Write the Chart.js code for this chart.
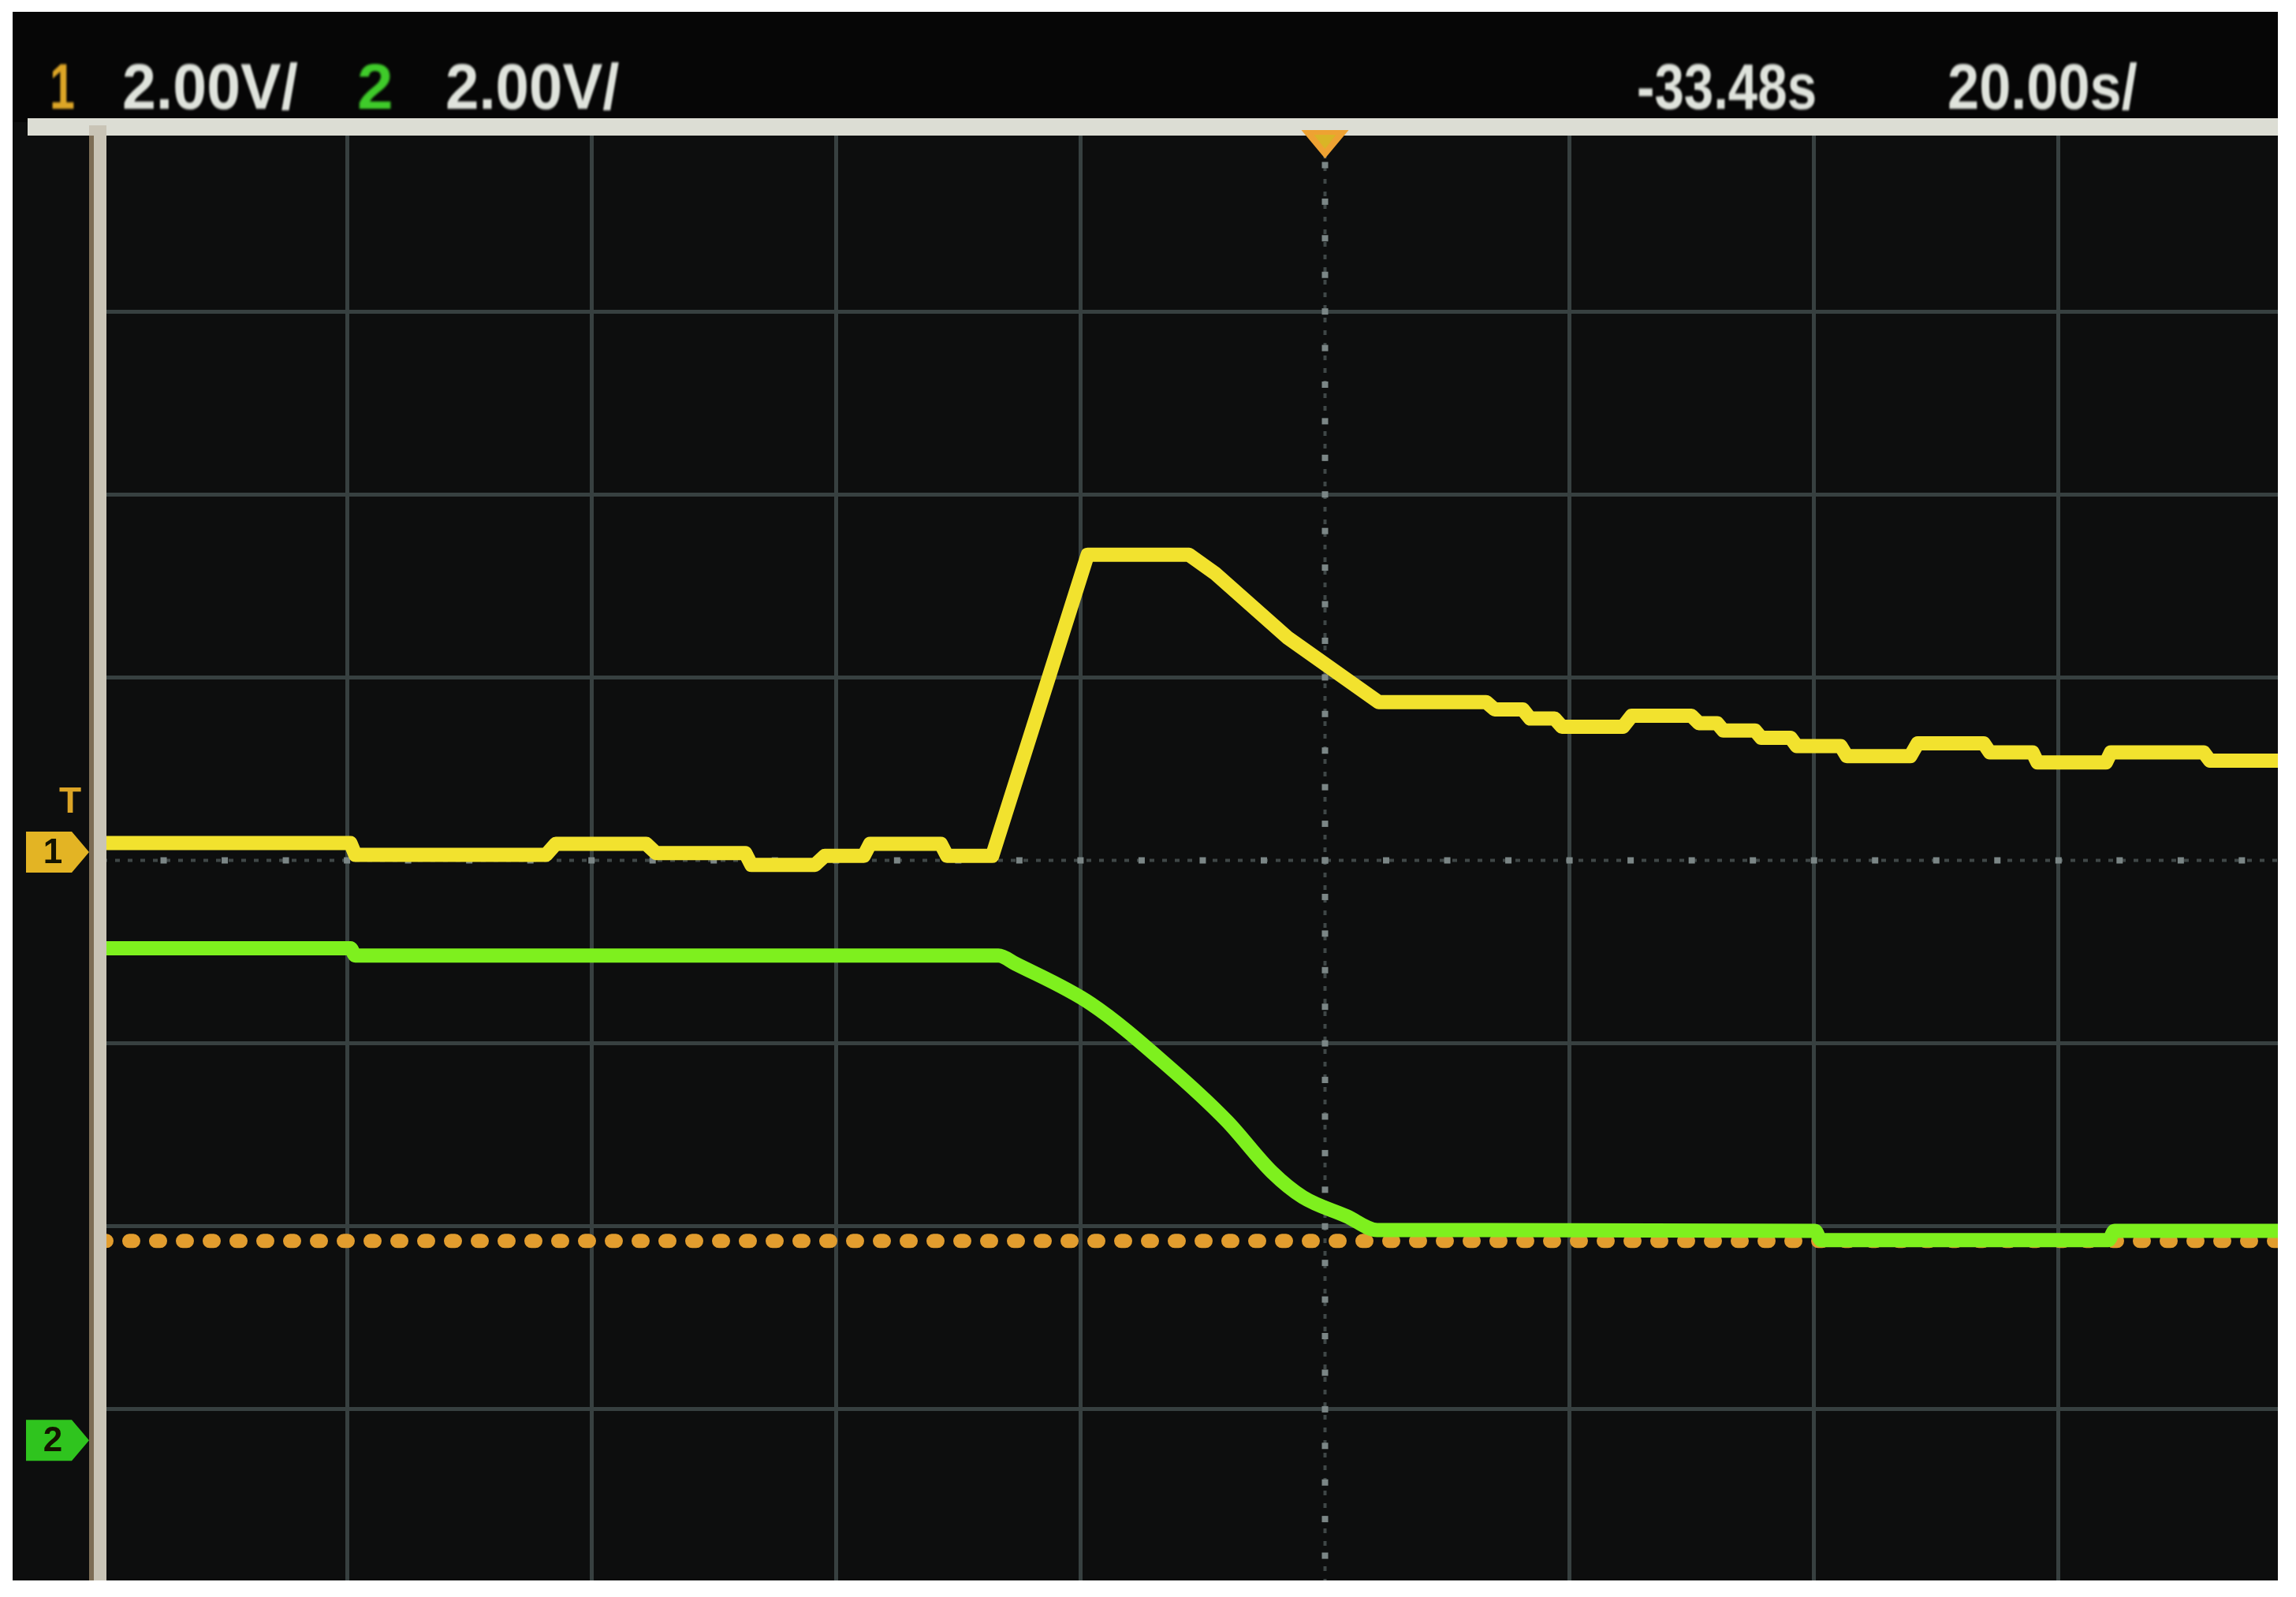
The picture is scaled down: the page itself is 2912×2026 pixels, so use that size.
<!DOCTYPE html>
<html>
<head>
<meta charset="utf-8">
<title>Scope capture</title>
<script src="https://cdn.jsdelivr.net/npm/chart.js@4.4.1/dist/chart.umd.min.js"></script>
<style>
  html, body { margin: 0; padding: 0; background: #ffffff; }
  body { width: 2912px; height: 2026px; position: relative; overflow: hidden; }
  #screen {
    position: absolute; left: 16px; top: 15px; width: 2873px; height: 1990px; overflow: hidden;
    background: linear-gradient(#060606 0px, #060606 140px, #0d0e0e 140px);
  }
  #scope { position: absolute; left: 0; top: 0; }
  .lbl {
    position: absolute; top: 54px; font-family: "Liberation Sans", Arial, sans-serif;
    font-size: 82px; font-weight: bold; line-height: 1; color: #dfe3dc; white-space: nowrap;
    transform-origin: left top; filter: blur(1.4px);
  }
</style>
</head>
<body>
<div id="screen">
  <span class="lbl" id="ch1Name" style="left:47px; color:#dca526; transform:scaleX(0.7)"></span>
  <span class="lbl" id="ch1Scale" style="left:139px; transform:scaleX(0.94)"></span>
  <span class="lbl" id="ch2Name" style="left:437px; color:#3fcb2a; transform:scaleX(1.0)"></span>
  <span class="lbl" id="ch2Scale" style="left:549px; transform:scaleX(0.93)"></span>
  <span class="lbl" id="timePos" style="left:2060px; transform:scaleX(0.82)"></span>
  <span class="lbl" id="timeScale" style="left:2454px; transform:scaleX(0.88)"></span>
  <canvas id="scope" width="3230" height="2025"></canvas>
</div>
<script>
// Scope settings
const voltsPerDiv = 2.0;
const secPerDiv = 20.0;
const timeOffset = -33.48;
const ch1GroundDiv = 0.08;
const ch2GroundDiv = -3.17;

// Header readouts
const channelNames = ['1', '2'];
const channelScaleLabels = ['2.00V/', '2.00V/'];
const timeLabels = ['-33.48s', '20.00s/'];

// Channel 1 (yellow), seconds / volts
const ch1Time = [-133.5, -113.2, -112.8, -97.2, -96.4, -89.0, -88.2, -80.9, -80.4, -75.2,
  -74.4, -71.2, -70.7, -64.9, -64.4, -60.7, -52.9, -44.6, -42.5, -36.5,
  -29.1, -20.3, -19.6, -17.3, -16.7, -14.7, -14.1, -9.1, -8.4, -3.5,
  -2.9, -1.4, -0.9, 1.7, 2.2, 4.6, 5.1, 8.7, 9.2, 14.4,
  15.0, 20.4, 20.9, 24.4, 24.8, 30.4, 30.8, 38.4, 38.9, 44.7];
const ch1Volts = [0.03, 0.03, -0.10, -0.10, 0.02, 0.02, -0.08, -0.08, -0.21, -0.21,
  -0.11, -0.11, 0.02, 0.02, -0.11, -0.11, 3.18, 3.18, 2.98, 2.27,
  1.57, 1.57, 1.49, 1.49, 1.39, 1.39, 1.30, 1.30, 1.42, 1.42,
  1.34, 1.34, 1.26, 1.26, 1.18, 1.18, 1.09, 1.09, 0.98, 0.98,
  1.12, 1.12, 1.02, 1.02, 0.91, 0.91, 1.02, 1.02, 0.93, 0.93];

// Channel 2 (green), seconds / volts
const ch2Time = [-133.5, -113.2, -112.8, -60.2, -58.8, -52.6, -46.4, -41.5, -37.8, -35.3,
  -31.7, -29.2, 6.6, 7.1, 30.6, 31.1, 44.7];
const ch2Volts = [5.38, 5.38, 5.30, 5.30, 5.21, 4.77, 4.10, 3.49, 2.93, 2.66,
  2.45, 2.30, 2.29, 2.19, 2.19, 2.29, 2.29];

// Orange dotted level line (on channel 2 scale)
const levelTime = [-133.48, 66.52];
const levelVolts = [2.18, 2.18];

document.getElementById('ch1Name').textContent = channelNames[0];
document.getElementById('ch2Name').textContent = channelNames[1];
document.getElementById('ch1Scale').textContent = channelScaleLabels[0];
document.getElementById('ch2Scale').textContent = channelScaleLabels[1];
document.getElementById('timePos').textContent = timeLabels[0];
document.getElementById('timeScale').textContent = timeLabels[1];

const xMin = timeOffset - 5 * secPerDiv;
const xMax = timeOffset + 5 * secPerDiv;
const gridColor = '#374040';

function toPoints(xs, ys) {
  return xs.map((x, i) => ({ x: x, y: ys[i] }));
}

// Arrow-shaped ground marker left of the graticule
function drawGround(ctx, tipX, y, color, text) {
  ctx.save();
  ctx.fillStyle = color;
  ctx.beginPath();
  ctx.moveTo(tipX - 80, y - 26);
  ctx.lineTo(tipX - 22, y - 26);
  ctx.lineTo(tipX, y);
  ctx.lineTo(tipX - 22, y + 26);
  ctx.lineTo(tipX - 80, y + 26);
  ctx.closePath();
  ctx.fill();
  ctx.fillStyle = '#141400';
  ctx.font = 'bold 44px "Liberation Sans", Arial, sans-serif';
  ctx.textAlign = 'center';
  ctx.textBaseline = 'middle';
  ctx.fillText(text, tipX - 46, y + 2);
  ctx.restore();
}

const scopeDecor = {
  id: 'scopeDecor',
  beforeDatasetsDraw(chart) {
    const ctx = chart.ctx;
    const xs = chart.scales.x, ys = chart.scales.y;
    const cx = xs.getPixelForValue(timeOffset);
    const cy = ys.getPixelForValue(0);
    ctx.save();
    // centre cross: faint line plus sub-division dots
    ctx.strokeStyle = '#3f4747';
    ctx.lineWidth = 4;
    ctx.setLineDash([6, 10]);
    ctx.beginPath();
    ctx.moveTo(cx, ys.top); ctx.lineTo(cx, ys.bottom);
    ctx.moveTo(xs.left, cy); ctx.lineTo(xs.right, cy);
    ctx.stroke();
    ctx.setLineDash([]);
    ctx.fillStyle = '#7b8686';
    for (let v = -4; v <= 4.001; v += 0.2) {
      const py = ys.getPixelForValue(v);
      ctx.fillRect(cx - 4, py - 4, 8, 8);
    }
    for (let t = xMin; t <= xMax + 0.001; t += secPerDiv / 4) {
      const px = xs.getPixelForValue(t);
      ctx.fillRect(px - 4, cy - 4, 8, 8);
    }
    ctx.restore();
  },
  afterDatasetsDraw(chart) {
    const ctx = chart.ctx;
    const xs = chart.scales.x, ys = chart.scales.y;
    const barLeft = xs.left - 17;
    ctx.save();
    // top and left graticule bars
    ctx.fillStyle = '#dcddd4';
    ctx.fillRect(19, ys.top - 13, chart.width, 22);
    ctx.fillStyle = '#c9c4b6';
    ctx.fillRect(barLeft, ys.top - 4, 22, chart.height);
    ctx.fillStyle = '#7d6d55';
    ctx.fillRect(barLeft, ys.top + 9, 6, chart.height);
    // trigger time marker
    const tx = xs.getPixelForValue(timeOffset);
    ctx.fillStyle = '#eea232';
    ctx.beginPath();
    ctx.moveTo(tx - 30, ys.top + 2);
    ctx.lineTo(tx + 30, ys.top + 2);
    ctx.lineTo(tx, ys.top + 38);
    ctx.closePath();
    ctx.fill();
    ctx.fillStyle = '#d9b526';
    ctx.beginPath();
    ctx.moveTo(tx - 14, ys.top + 8);
    ctx.lineTo(tx + 14, ys.top + 8);
    ctx.lineTo(tx, ys.top + 26);
    ctx.closePath();
    ctx.fill();
    ctx.restore();
    // channel ground markers
    const g1 = chart.scales.y1.getPixelForValue(0);
    const g2 = chart.scales.y2.getPixelForValue(0);
    drawGround(ctx, barLeft, g1 + 8, '#e3b424', channelNames[0]);
    drawGround(ctx, barLeft, g2, '#2fc41e', channelNames[1]);
    ctx.save();
    ctx.fillStyle = '#dca526';
    ctx.font = 'bold 46px "Liberation Sans", Arial, sans-serif';
    ctx.textAlign = 'center';
    ctx.textBaseline = 'middle';
    ctx.fillText('T', barLeft - 24, g1 - 55);
    ctx.restore();
  }
};

new Chart(document.getElementById('scope'), {
  type: 'line',
  data: {
    datasets: [
      {
        label: 'Channel 1',
        data: toPoints(ch1Time, ch1Volts),
        yAxisID: 'y1',
        borderColor: '#f2e22e',
        borderWidth: 18,
        borderJoinStyle: 'round',
        pointRadius: 0,
        tension: 0
      },
      {
        label: 'Channel 2',
        data: toPoints(ch2Time, ch2Volts),
        yAxisID: 'y2',
        borderColor: '#7ef01e',
        borderWidth: 18,
        borderJoinStyle: 'round',
        pointRadius: 0,
        cubicInterpolationMode: 'monotone'
      },
      {
        label: 'Level',
        data: toPoints(levelTime, levelVolts),
        yAxisID: 'y2',
        borderColor: '#e29d2e',
        borderWidth: 18,
        borderDash: [5, 29],
        borderCapStyle: 'round',
        pointRadius: 0
      }
    ]
  },
  options: {
    responsive: false,
    animation: false,
    devicePixelRatio: 1,
    layout: { padding: { left: 114, top: 148, right: 15, bottom: 20 } },
    plugins: { legend: { display: false }, tooltip: { enabled: false } },
    scales: {
      x: {
        type: 'linear',
        min: xMin,
        max: xMax,
        afterBuildTicks: (scale) => {
          scale.ticks = [];
          for (let k = 0; k <= 10; k++) scale.ticks.push({ value: xMin + k * secPerDiv });
        },
        ticks: { display: false },
        border: { display: false },
        grid: {
          drawTicks: false,
          lineWidth: 5,
          color: (c) => (c.index === 5 ? 'transparent' : gridColor)
        }
      },
      y: {
        min: -4,
        max: 4,
        ticks: { display: false, stepSize: 1 },
        border: { display: false },
        grid: {
          drawTicks: false,
          lineWidth: 5,
          color: (c) => (c.tick && c.tick.value === 0 ? 'transparent' : gridColor)
        }
      },
      y1: {
        display: false,
        min: (-4 - ch1GroundDiv) * voltsPerDiv,
        max: (4 - ch1GroundDiv) * voltsPerDiv
      },
      y2: {
        display: false,
        min: (-4 - ch2GroundDiv) * voltsPerDiv,
        max: (4 - ch2GroundDiv) * voltsPerDiv
      }
    }
  },
  plugins: [scopeDecor]
});
</script>
</body>
</html>
